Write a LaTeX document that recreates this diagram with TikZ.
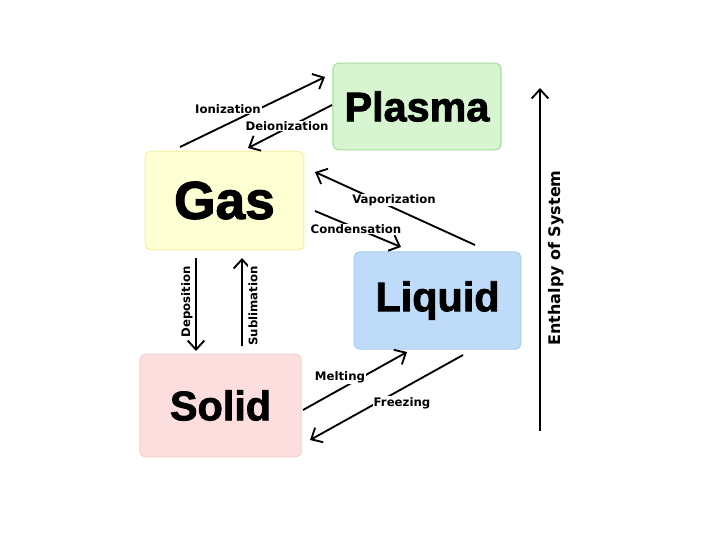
\documentclass[tikz,border=0pt]{standalone}
\usepackage{fontspec}
\setmainfont{Liberation Sans}
\newfontfamily\heavyfont[FakeBold=2]{Liberation Sans}
\newfontfamily\labelfont{DejaVu Sans}
\usetikzlibrary{arrows.meta}
\definecolor{plasmafill}{RGB}{214,245,208}
\definecolor{plasmaline}{RGB}{165,222,155}
\definecolor{gasfill}{RGB}{255,255,212}
\definecolor{gasline}{RGB}{242,240,165}
\definecolor{liquidfill}{RGB}{190,220,250}
\definecolor{liquidline}{RGB}{168,204,240}
\definecolor{solidfill}{RGB}{253,222,222}
\definecolor{solidline}{RGB}{248,208,208}
\tikzset{
  phase box/.style={
    rounded corners=4pt,
    line width=0.8pt,
    inner sep=0pt,
    font=\heavyfont\bfseries\fontsize{31}{31}\selectfont
  },
  phase arrow/.style={
    line width=1.4pt,
    -{Straight Barb[length=2.4mm,width=4.4mm]}
  },
  phase label/.style={
    fill=white,
    inner sep=0.6pt,
    font=\labelfont\bfseries\fontsize{8.8}{9}\selectfont
  }
}

\begin{document}
\begin{tikzpicture}[x=0.75pt,y=-0.75pt]

    \useasboundingbox (0,0) rectangle (720,540);

    % ---------- phases ----------
    \node[phase box, fill=plasmafill, draw=plasmaline,
      minimum width=126pt, minimum height=65pt]
      (plasma) at (417,106.5) {Plasma};
    \node[phase box, fill=gasfill, draw=gasline,
      minimum width=119pt, minimum height=74pt,
      font=\heavyfont\bfseries\fontsize{40}{40}\selectfont]
      (gas) at (224.5,200.5) {Gas};
    \node[phase box, fill=liquidfill, draw=liquidline,
      minimum width=125pt, minimum height=73pt]
      (liquid) at (437.5,300.5) {Liquid};
    \node[phase box, fill=solidfill, draw=solidline,
      minimum width=121pt, minimum height=77pt]
      (solid) at (220.5,405.5) {Solid};

    % ---------- arrow ends ----------
    \coordinate (ion s) at (180,147);
    \coordinate (ion e) at (325,77);
    \coordinate (deion s) at (332,105);
    \coordinate (deion e) at (248,148);
    \coordinate (vap s) at (475,245);
    \coordinate (vap e) at (315,172);
    \coordinate (cond s) at (315,211);
    \coordinate (cond e) at (401,247);
    \coordinate (dep s) at (196,258);
    \coordinate (dep e) at (196,351);
    \coordinate (sub s) at (242,346);
    \coordinate (sub e) at (242,258);
    \coordinate (melt s) at (303,410);
    \coordinate (melt e) at (407,352);
    \coordinate (freeze s) at (463,355);
    \coordinate (freeze e) at (310,440);
    \coordinate (enth s) at (540,431);
    \coordinate (enth e) at (540,88);

    % ---------- transitions ----------
    \draw[phase arrow] (ion s) -- (ion e);
    \draw[phase arrow] (deion s) -- (deion e);
    \draw[phase arrow] (vap s) -- (vap e);
    \draw[phase arrow] (cond s) -- (cond e);
    \draw[phase arrow] (dep s) -- (dep e);
    \draw[phase arrow] (sub s) -- (sub e);
    \draw[phase arrow] (melt s) -- (melt e);
    \draw[phase arrow] (freeze s) -- (freeze e);

    \node[phase label] (ion) at (228,109) {Ionization};
    \node[phase label] (deion) at (287,126) {Deionization};
    \node[phase label] (vap) at (394,200) {Vaporization};
    \node[phase label] (cond) at (356,229) {Condensation};
    \node[phase label, rotate=90] (dep) at (187,302) {Deposition};
    \node[phase label, rotate=90] (sub) at (253,306) {Sublimation};
    \node[phase label] (melt) at (340,377) {Melting};
    \node[phase label] (freeze) at (402,403) {Freezing};

    % ---------- enthalpy axis ----------
    \draw[phase arrow] (enth s) -- (enth e);
    \node[phase label, rotate=90,
      font=\labelfont\bfseries\fontsize{12}{13}\selectfont]
      (enth) at (556,258) {Enthalpy of System};

\end{tikzpicture}
\end{document}
